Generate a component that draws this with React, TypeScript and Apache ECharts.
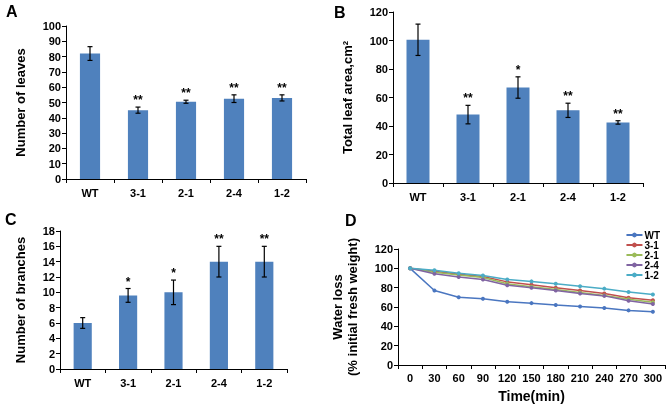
import React, { useEffect, useRef } from "react";
import * as echarts from "echarts";

const lines = ["WT", "3-1", "2-1", "2-4", "1-2"];

const leaves = [82, 45, 50.5, 52.5, 53];
const leavesErr = [4.5, 2, 1, 2.5, 2];
const leavesSig = ["", "**", "**", "**", "**"];

const area = [100.5, 48, 67, 51, 42.5];
const areaErr = [11, 6.5, 7.5, 5, 1.2];
const areaSig = ["", "**", "*", "**", "**"];

const branches = [6, 9.6, 10, 14, 14];
const branchesErr = [0.7, 0.9, 1.6, 2, 2];
const branchesSig = ["", "*", "*", "**", "**"];

const timeLabels = ["0", "30", "60", "90", "120", "150", "180", "210", "240", "270", "300"];
const wtLoss = [100, 77, 70, 68.5, 65.5, 64, 62, 60.5, 59, 56.5, 55];
const l31Loss = [100, 97, 94, 91.5, 86, 83, 80, 77, 74, 69.5, 67];
const l21Loss = [100, 96, 93, 90.5, 84, 81, 78, 75, 72, 68, 65];
const l24Loss = [100, 94.5, 91, 88.5, 82.5, 80, 77, 74, 71.5, 66.5, 63];
const l12Loss = [100, 98, 95, 92.5, 88.5, 86.5, 84, 81.5, 79, 75.5, 73];

const lineColors = ["#4A76C0", "#C0504D", "#9BBB59", "#8064A2", "#4BACC6"];
const BAR = "#4F81BD";
const FONT = "Liberation Sans, Arial, sans-serif";

function errSeries(gi: number, vals: number[], errs: number[], sig: string[]) {
  return {
    type: "custom",
    xAxisIndex: gi,
    yAxisIndex: gi,
    data: vals.map((v, i) => [i, v, errs[i]]),
    encode: { x: 0, y: 1 },
    z: 5,
    renderItem: (params: any, api: any) => {
      const i = api.value(0);
      const v = api.value(1);
      const e = api.value(2);
      const t = api.coord([i, v + e]);
      const b = api.coord([i, v - e]);
      const c = 2.5;
      const st = { stroke: "#000", lineWidth: 1.2 };
      const children: any[] = [
        { type: "line", shape: { x1: t[0], y1: t[1], x2: b[0], y2: b[1] }, style: st },
        { type: "line", shape: { x1: t[0] - c, y1: t[1], x2: t[0] + c, y2: t[1] }, style: st },
        { type: "line", shape: { x1: b[0] - c, y1: b[1], x2: b[0] + c, y2: b[1] }, style: st },
      ];
      const s = sig[params.dataIndex];
      if (s) {
        children.push({
          type: "text",
          x: t[0],
          y: t[1] - 1,
          style: {
            text: s,
            align: "center",
            verticalAlign: "bottom",
            fontSize: 12,
            fontWeight: "bold",
            fontFamily: FONT,
            fill: "#000",
          },
        });
      }
      return { type: "group", children };
    },
  };
}

export default function App() {
  const ref = useRef<HTMLDivElement>(null);
  useEffect(() => {
    if (!ref.current) return;
    const chart = echarts.init(ref.current, undefined, { renderer: "svg" });
    const axisLine = { lineStyle: { color: "#000", width: 1 } };
    const tickStyle = { lineStyle: { color: "#000" }, length: 4 };
    const lbl = { color: "#000", fontWeight: "bold", fontSize: 11, fontFamily: FONT };
    const nameStyle = { color: "#000", fontWeight: "bold", fontSize: 13, fontFamily: FONT };

    const catAxis = (gi: number, data: string[], margin = 8) => ({
      type: "category",
      gridIndex: gi,
      data,
      axisLine,
      axisTick: { show: true, ...tickStyle, alignWithLabel: false },
      axisLabel: { ...lbl, margin },
    });
    const valAxis = (gi: number, max: number, interval: number, name: string, nameGap: number, extra: any = {}) => ({
      type: "value",
      gridIndex: gi,
      min: 0,
      max,
      interval,
      name,
      nameLocation: "middle",
      nameRotate: 90,
      nameGap,
      nameTextStyle: { ...nameStyle, ...extra },
      axisLine: { show: true, ...axisLine },
      axisTick: { show: true, ...tickStyle },
      axisLabel: { ...lbl, margin: 5 },
      splitLine: { show: false },
    });

    const lineSeries = (name: string, data: number[], color: string) => ({
      type: "line",
      name,
      xAxisIndex: 3,
      yAxisIndex: 3,
      data,
      symbol: "circle",
      symbolSize: 4,
      lineStyle: { color, width: 1.5 },
      itemStyle: { color },
    });

    chart.setOption({
      animation: false,
      textStyle: { fontFamily: FONT },
      grid: [
        { left: 66, top: 26, width: 240, height: 153 },
        { left: 393, top: 12, width: 250, height: 171 },
        { left: 60, top: 231, width: 227, height: 138 },
        { left: 398, top: 249, width: 267, height: 119 },
      ],
      xAxis: [
        catAxis(0, lines),
        catAxis(1, lines),
        catAxis(2, lines),
        {
          ...catAxis(3, timeLabels, 7),
          name: "Time(min)",
          nameLocation: "middle",
          nameGap: 24,
          nameTextStyle: { ...nameStyle, fontSize: 14 },
        },
      ],
      yAxis: [
        valAxis(0, 100, 10, "Number of leaves", 39),
        valAxis(1, 120, 20, "Total leaf area,cm²", 39),
        valAxis(2, 18, 2, "Number of branches", 33),
        valAxis(3, 120, 20, "Water loss\n(% initial fresh weight)", 38, { lineHeight: 15 }),
      ],
      legend: {
        orient: "vertical",
        right: 6,
        top: 225,
        itemWidth: 16,
        itemHeight: 6,
        itemGap: 0,
        textStyle: { color: "#000", fontWeight: "bold", fontSize: 10, lineHeight: 9.5, fontFamily: FONT, padding: [0, 0, 0, -3] },
        data: ["WT", "3-1", "2-1", "2-4", "1-2"],
      },
      graphic: [
        { type: "text", left: 6, top: 3, style: { text: "A", fontSize: 16, fontWeight: "bold", fontFamily: FONT, fill: "#000" } },
        { type: "text", left: 334, top: 4, style: { text: "B", fontSize: 16, fontWeight: "bold", fontFamily: FONT, fill: "#000" } },
        { type: "text", left: 5, top: 211, style: { text: "C", fontSize: 16, fontWeight: "bold", fontFamily: FONT, fill: "#000" } },
        { type: "text", left: 345, top: 212, style: { text: "D", fontSize: 16, fontWeight: "bold", fontFamily: FONT, fill: "#000" } },
      ],
      series: [
        { type: "bar", xAxisIndex: 0, yAxisIndex: 0, data: leaves, barWidth: "42%", itemStyle: { color: BAR } },
        { type: "bar", xAxisIndex: 1, yAxisIndex: 1, data: area, barWidth: "46%", itemStyle: { color: BAR } },
        { type: "bar", xAxisIndex: 2, yAxisIndex: 2, data: branches, barWidth: "40%", itemStyle: { color: BAR } },
        errSeries(0, leaves, leavesErr, leavesSig),
        errSeries(1, area, areaErr, areaSig),
        errSeries(2, branches, branchesErr, branchesSig),
        lineSeries("WT", wtLoss, lineColors[0]),
        lineSeries("3-1", l31Loss, lineColors[1]),
        lineSeries("2-1", l21Loss, lineColors[2]),
        lineSeries("2-4", l24Loss, lineColors[3]),
        lineSeries("1-2", l12Loss, lineColors[4]),
      ],
    });
    return () => chart.dispose();
  }, []);
  return <div ref={ref} style={{ position: "fixed", left: 0, top: 0, width: 671, height: 404 }} />;
}
